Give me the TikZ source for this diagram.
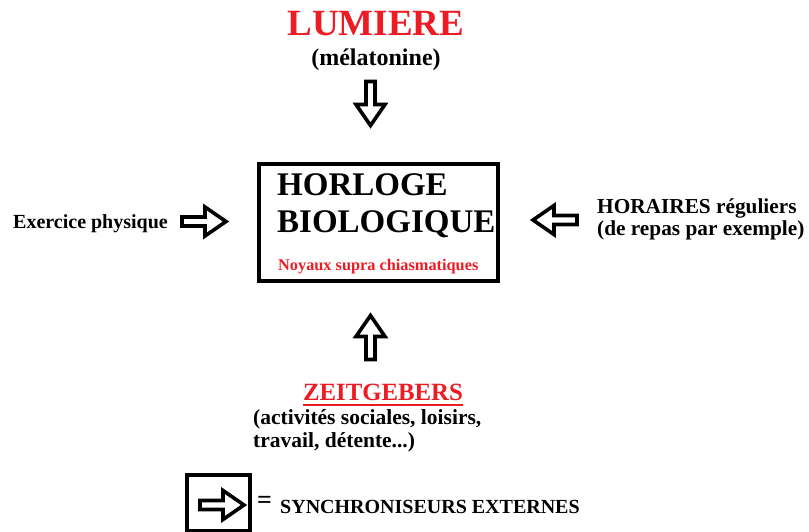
\documentclass[tikz,border=0pt]{standalone}
\usepackage{fontspec}
\setmainfont{Liberation Serif}
\definecolor{pred}{HTML}{ED1C24}
\tikzset{
  x=1pt, y=-1pt,
  txt/.style={inner sep=0pt, font=\bfseries},
  boxline/.style={draw=black, line width=4pt},
  pics/barrow/.style={code={
    \draw[line width=3.6pt, line join=miter]
      (-22,-4.5) -- (1,-4.5) -- (1,-14.5) -- (22,0) -- (1,14.5) -- (1,4.5) -- (-22,4.5) -- cycle;
  }}
}
\begin{document}
\begin{tikzpicture}
\useasboundingbox (0,0) rectangle (809,531);
% top
\node[txt, text=pred, anchor=base, font=\bfseries\fontsize{37}{40}\selectfont] (lum) at (376,35) {LUMIERE};
\node[txt, anchor=base, font=\bfseries\fontsize{24}{26}\selectfont] (mel) at (376,65) {(mélatonine)};
\pic[rotate=-90] (adown) at (370.5,103.5) {barrow};
% main box
\node[boxline, minimum width=239pt, minimum height=117pt, inner sep=0pt] (clock) at (378.5,222.5) {};
\node[txt, anchor=base west, font=\bfseries\fontsize{33}{36}\selectfont] (hor) at (277,195) {HORLOGE};
\node[txt, anchor=base west, font=\bfseries\fontsize{33}{36}\selectfont] (bio) at (277,232) {BIOLOGIQUE};
\node[txt, text=pred, anchor=base west, font=\bfseries\fontsize{16.3}{18}\selectfont] (noy) at (278,270) {Noyaux supra chiasmatiques};
% left
\node[txt, anchor=base west, font=\bfseries\fontsize{20}{22}\selectfont] (exo) at (13,228) {Exercice physique};
\pic (aright) at (204,221.5) {barrow};
% right
\pic[rotate=180] (aleft) at (555,220) {barrow};
\node[txt, anchor=base west, font=\bfseries\fontsize{21.3}{22}\selectfont] (hora) at (597,213) {HORAIRES réguliers};
\node[txt, anchor=base west, font=\bfseries\fontsize{21.3}{22}\selectfont] (repas) at (597,235) {(de repas par exemple)};
% bottom
\pic[rotate=90] (aup) at (370.5,337.5) {barrow};
\node[txt, text=pred, anchor=base, font=\bfseries\fontsize{24.8}{26}\selectfont] (zeit) at (383,400) {ZEITGEBERS};
\draw[pred, line width=2pt] ([yshift=-5pt]zeit.base west) -- ([yshift=-5pt]zeit.base east);
\node[txt, anchor=base west, font=\bfseries\fontsize{21.5}{23}\selectfont] (act) at (253,424) {(activités sociales, loisirs,};
\node[txt, anchor=base west, font=\bfseries\fontsize{21.5}{23}\selectfont] (trav) at (253,447) {travail, détente...)};
% legend
\node[boxline, minimum width=63pt, minimum height=56pt, inner sep=0pt] (legbox) at (218.5,503) {};
\pic (aleg) at (222,505) {barrow};
\node[txt, anchor=base west, font=\bfseries\fontsize{26}{28}\selectfont] (eq) at (257,508) {=};
\node[txt, anchor=base west, font=\bfseries\fontsize{20}{22}\selectfont] (sync) at (280,513) {SYNCHRONISEURS EXTERNES};
\end{tikzpicture}
\end{document}
